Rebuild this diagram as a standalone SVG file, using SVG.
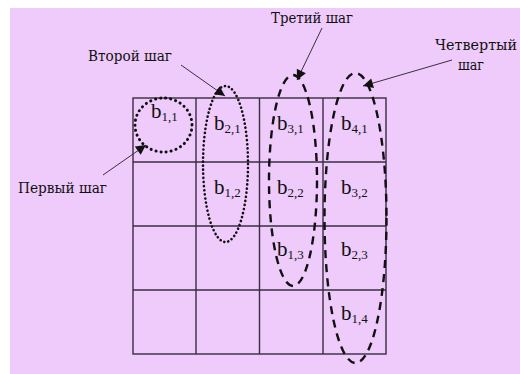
<svg xmlns="http://www.w3.org/2000/svg" width="520" height="374" viewBox="0 0 520 374">
<defs>
<style>
.lbl{font-family:'DejaVu Serif',serif;font-size:15px;fill:#111}
.b{font-family:'Liberation Serif',serif;font-size:21px;fill:#111}
.s{font-size:13px}
.grid{stroke:#3a2c40;stroke-width:1.4;fill:none}
.arr{stroke:#3a3040;stroke-width:1;fill:none;marker-end:url(#ah)}
.dot1{fill:none;stroke:#111;stroke-width:3;stroke-dasharray:0.1 5;stroke-linecap:round}
.dot2{fill:none;stroke:#111;stroke-width:2.6;stroke-dasharray:0.1 4;stroke-linecap:round}
.dash{fill:none;stroke:#111;stroke-width:2.4;stroke-dasharray:8 6}
</style>
<marker id="ah" viewBox="0 0 10 10" refX="10" refY="5" markerWidth="11" markerHeight="10" markerUnits="userSpaceOnUse" orient="auto">
<path d="M0,0 L10,5 L0,10 z" fill="#111"/>
</marker>
</defs>
<rect x="0" y="0" width="520" height="374" fill="#ffffff"/>
<rect x="10" y="8" width="510" height="366" fill="#eecbfa"/>
<g id="grid" class="grid">
<rect x="133" y="98" width="253" height="256"/>
<line x1="196" y1="98" x2="196" y2="354"/>
<line x1="259.5" y1="98" x2="259.5" y2="354"/>
<line x1="323" y1="98" x2="323" y2="354"/>
<line x1="133" y1="162" x2="386" y2="162"/>
<line x1="133" y1="226" x2="386" y2="226"/>
<line x1="133" y1="290" x2="386" y2="290"/>
</g>
<g id="cells">
<text class="b" x="151" y="118">b<tspan class="s" dy="3">1,1</tspan></text>
<text class="b" x="214" y="130">b<tspan class="s" dy="3">2,1</tspan></text>
<text class="b" x="277" y="130">b<tspan class="s" dy="3">3,1</tspan></text>
<text class="b" x="341" y="130">b<tspan class="s" dy="3">4,1</tspan></text>
<text class="b" x="214" y="194">b<tspan class="s" dy="3">1,2</tspan></text>
<text class="b" x="277" y="194">b<tspan class="s" dy="3">2,2</tspan></text>
<text class="b" x="341" y="194">b<tspan class="s" dy="3">3,2</tspan></text>
<text class="b" x="277" y="256">b<tspan class="s" dy="3">1,3</tspan></text>
<text class="b" x="341" y="256">b<tspan class="s" dy="3">2,3</tspan></text>
<text class="b" x="341" y="320">b<tspan class="s" dy="3">1,4</tspan></text>
</g>
<g id="step1">
<ellipse class="dot1" cx="163.5" cy="125" rx="28.5" ry="27"/>
<text class="lbl" x="18" y="193" textLength="89" lengthAdjust="spacingAndGlyphs">Первый шаг</text>
</g>
<g id="step2">
<ellipse class="dot2" cx="225.5" cy="164" rx="22.5" ry="78"/>
<text class="lbl" x="88" y="61" textLength="84" lengthAdjust="spacingAndGlyphs">Второй шаг</text>
</g>
<g id="step3">
<ellipse class="dash" cx="293" cy="180.5" rx="24" ry="105.5"/>
<text class="lbl" x="271" y="23" textLength="82" lengthAdjust="spacingAndGlyphs">Третий шаг</text>
</g>
<g id="step4">
<ellipse class="dash" cx="355.5" cy="218" rx="31" ry="145"/>
<text class="lbl" x="435" y="50" textLength="82" lengthAdjust="spacingAndGlyphs">Четвертый</text>
<text class="lbl" x="458" y="70" textLength="26" lengthAdjust="spacingAndGlyphs">шаг</text>
</g>
<g id="connectors">
<line class="arr" x1="103" y1="175" x2="146" y2="145"/>
<line class="arr" x1="181" y1="65" x2="225" y2="96"/>
<line class="arr" x1="322" y1="28" x2="297" y2="80"/>
<line class="arr" x1="452" y1="60" x2="363" y2="86"/>
</g>
</svg>
